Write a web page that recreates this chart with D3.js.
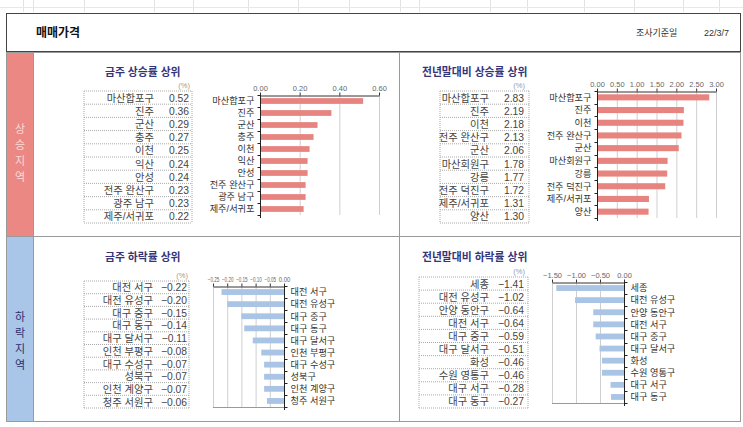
<!DOCTYPE html>
<html lang="ko">
<head>
<meta charset="utf-8">
<title>매매가격</title>
<script src="https://cdn.jsdelivr.net/npm/d3@7"></script>
<style>
  body { margin: 0; background: #fff; }
  svg { display: block; font-family: "Liberation Sans", "Noto Sans CJK KR", sans-serif; }
</style>
</head>
<body>
<script>
// ---- data ----
let weekUpNames = ["마산합포구", "진주", "군산", "충주", "이천", "익산", "안성", "전주 완산구", "광주 남구", "제주/서귀포"]
let weekUpVals = [0.52, 0.36, 0.29, 0.27, 0.25, 0.24, 0.24, 0.23, 0.23, 0.22]
let weekUpTicks = [0, 0.2, 0.4, 0.6]

let yearUpNames = ["마산합포구", "진주", "이천", "전주 완산구", "군산", "마산회원구", "강릉", "전주 덕진구", "제주/서귀포", "양산"]
let yearUpVals = [2.83, 2.19, 2.18, 2.13, 2.06, 1.78, 1.77, 1.72, 1.31, 1.30]
let yearUpTicks = [0, 0.5, 1, 1.5, 2, 2.5, 3]

let weekDownNames = ["대전 서구", "대전 유성구", "대구 중구", "대구 동구", "대구 달서구", "인천 부평구", "대구 수성구", "성북구", "인천 계양구", "청주 서원구"]
let weekDownVals = [-0.22, -0.20, -0.15, -0.14, -0.11, -0.08, -0.07, -0.07, -0.07, -0.06]
let weekDownTicks = [-0.25, -0.2, -0.15, -0.1, -0.05, 0]

let yearDownNames = ["세종", "대전 유성구", "안양 동안구", "대전 서구", "대구 중구", "대구 달서구", "화성", "수원 영통구", "대구 서구", "대구 동구"]
let yearDownVals = [-1.41, -1.02, -0.64, -0.64, -0.59, -0.51, -0.46, -0.46, -0.28, -0.27]
let yearDownTicks = [-1.5, -1, -0.5, 0]

let w = 743, h = 427
let red = "#e8847f", blue = "#a9c4e5", navy = "#35357a"
let fmt = d3.format(".2f")

let svg = d3.select("body").append("svg").attr("width", w).attr("height", h)

// faint spreadsheet grid at the very top
let gridX = [23, 33, 84, 154, 193, 248, 298, 349, 400, 419, 490, 527, 584, 634, 683, 719]
gridX.forEach(x => {
  svg.append("line").attr("x1", x + 0.5).attr("x2", x + 0.5).attr("y1", 0).attr("y2", 12)
    .attr("stroke", "#e3e3e3")
})
svg.append("line").attr("x1", 0).attr("x2", w).attr("y1", 7.5).attr("y2", 7.5).attr("stroke", "#e8e8e8")

// header box
svg.append("rect").attr("x", 6.5).attr("y", 13.5).attr("width", 734).attr("height", 38)
  .attr("fill", "#fff").attr("stroke", "#444")
svg.append("text").attr("x", 36).attr("y", 37).text("매매가격")
  .attr("font-size", 12).attr("font-weight", "bold").attr("fill", "#111")
svg.append("text").attr("x", 636).attr("y", 36).text("조사기준일")
  .attr("font-size", 9).attr("fill", "#333")
svg.append("text").attr("x", 704).attr("y", 36).text("22/3/7")
  .attr("font-size", 9).attr("fill", "#333")

// side bands
svg.append("rect").attr("x", 6).attr("y", 53).attr("width", 27).attr("height", 183).attr("fill", "#ec8883")
svg.append("rect").attr("x", 6).attr("y", 237).attr("width", 27).attr("height", 185).attr("fill", "#a9c6e9")
"상승지역".split("").forEach((c, i) => {
  svg.append("text").attr("x", 20).attr("y", 133 + i * 16).text(c)
    .attr("text-anchor", "middle").attr("font-size", 11).attr("fill", "#f8dcd8")
})
"하락지역".split("").forEach((c, i) => {
  svg.append("text").attr("x", 20).attr("y", 321 + i * 16).text(c)
    .attr("text-anchor", "middle").attr("font-size", 11).attr("fill", "#2e2e6e")
})

// panel frame
svg.append("rect").attr("x", 6.5).attr("y", 52.5).attr("width", 734).attr("height", 369)
  .attr("fill", "none").attr("stroke", "#9a9a9a")
svg.append("line").attr("x1", 33.5).attr("x2", 33.5).attr("y1", 53).attr("y2", 422).attr("stroke", "#9a9a9a")
svg.append("line").attr("x1", 399.5).attr("x2", 399.5).attr("y1", 53).attr("y2", 422).attr("stroke", "#9a9a9a")
svg.append("line").attr("x1", 6).attr("x2", 741).attr("y1", 236.5).attr("y2", 236.5).attr("stroke", "#9a9a9a")

function drawPanel(p) {
  let g = svg.append("g")

  // title
  g.append("text").attr("x", p.titleX).attr("y", p.titleY).text(p.title)
    .attr("font-size", 10.8).attr("font-weight", "bold").attr("fill", navy)

  // table
  let t = p.table
  let rowH = (t.bottom - t.top) / p.names.length
  g.append("text").attr("x", t.valX + 1).attr("y", t.top - 3).text("(%)")
    .attr("text-anchor", "end").attr("font-size", 7.5).attr("fill", "#999")
  for (let i = 0; i <= p.names.length; i++) {
    g.append("line").attr("x1", t.left).attr("x2", t.right)
      .attr("y1", t.top + i * rowH).attr("y2", t.top + i * rowH)
      .attr("stroke", "#aaa").attr("stroke-dasharray", "1,1")
  }
  ;[t.left, t.right].forEach(x => {
    g.append("line").attr("x1", x).attr("x2", x).attr("y1", t.top).attr("y2", t.bottom)
      .attr("stroke", "#aaa").attr("stroke-dasharray", "1,1")
  })
  p.names.forEach((n, i) => {
    let ty = t.top + i * rowH + rowH / 2 + 4
    g.append("text").attr("x", t.nameX).attr("y", ty).text(n)
      .attr("text-anchor", "end").attr("font-size", 10.3).attr("fill", "#444")
    g.append("text").attr("x", t.valX).attr("y", ty).text(fmt(p.values[i]))
      .attr("text-anchor", "end").attr("font-size", 10.3).attr("fill", "#444")
  })

  // bar chart
  let c = p.chart
  let ticks = p.ticks
  let x = d3.scaleLinear().domain(d3.extent(ticks)).range([c.x0, c.x1])
  let y = d3.scaleBand().domain(p.names).range([c.top, c.bottom])
    .paddingInner(0.52).paddingOuter(0.26)
  let step = y.step()

  // gridlines
  g.selectAll(".grid").data(ticks.filter(v => v !== 0)).enter()
    .append("line")
    .attr("x1", d => x(d) + 0.5).attr("x2", d => x(d) + 0.5)
    .attr("y1", c.top).attr("y2", c.bottom)
    .attr("stroke", "#cfcfcf")

  if (p.neg) {
    g.append("line").attr("x1", c.x0).attr("x2", c.x1)
      .attr("y1", c.bottom + 0.5).attr("y2", c.bottom + 0.5).attr("stroke", "#999")
  }

  // bars
  g.selectAll(".bar").data(p.values).enter()
    .append("rect")
    .attr("x", d => x(Math.min(0, d)))
    .attr("y", (d, i) => y(p.names[i]))
    .attr("width", d => Math.abs(x(d) - x(0)))
    .attr("height", y.bandwidth())
    .attr("fill", p.color)

  // value axis on top
  let xAxis = d3.axisTop(x).tickValues(ticks).tickFormat(fmt).tickSize(3).tickSizeOuter(0).tickPadding(2)
  let ax = g.append("g").attr("transform", "translate(0," + (c.top + 0.5) + ")").call(xAxis)
  ax.selectAll("text").attr("font-size", p.tickFont || 7.5).attr("fill", "#666")
  // squeeze crowded tick labels so they don't run into each other
  if (p.tickLen) {
    ax.selectAll("text").attr("textLength", p.tickLen).attr("lengthAdjust", "spacingAndGlyphs")
  }
  ax.selectAll("line").attr("stroke", "#333")
  ax.select(".domain").attr("stroke", "#333")

  // category axis at zero
  let zx = Math.round(x(0)) + 0.5
  g.append("line").attr("x1", zx).attr("x2", zx).attr("y1", c.top).attr("y2", c.bottom + 3)
    .attr("stroke", "#222")
  let dir = p.neg ? 1 : -1
  for (let i = 0; i <= p.names.length; i++) {
    let by = Math.round(c.top + i * step) + 0.5
    g.append("line").attr("x1", zx).attr("x2", zx + dir * 3).attr("y1", by).attr("y2", by)
      .attr("stroke", "#222")
  }
  p.names.forEach((n, i) => {
    g.append("text")
      .attr("x", zx + dir * 6)
      .attr("y", y(n) + y.bandwidth() / 2 + 3.3)
      .attr("text-anchor", p.neg ? "start" : "end")
      .attr("font-size", 9.2).attr("fill", "#333")
      .text(n)
  })
}

drawPanel({
  title: "금주 상승률 상위", titleX: 105, titleY: 76,
  names: weekUpNames, values: weekUpVals, ticks: weekUpTicks, color: red, neg: false,
  table: { left: 84, right: 192, top: 91, bottom: 223, nameX: 154, valX: 189 },
  chart: { x0: 260, x1: 379, top: 95, bottom: 215 }
})

drawPanel({
  title: "전년말대비 상승률 상위", titleX: 422, titleY: 76,
  names: yearUpNames, values: yearUpVals, ticks: yearUpTicks, color: red, neg: false,
  table: { left: 440, right: 529, top: 91, bottom: 223, nameX: 489, valX: 524 },
  chart: { x0: 597, x1: 716, top: 91, bottom: 218 }
})

drawPanel({
  title: "금주 하락률 상위", titleX: 105, titleY: 261,
  names: weekDownNames, values: weekDownVals, ticks: weekDownTicks, color: blue, neg: true,
  tickFont: 6.5, tickLen: 11.5,
  table: { left: 84, right: 189, top: 281, bottom: 408, nameX: 153, valX: 187 },
  chart: { x0: 213, x1: 284, top: 286, bottom: 407 }
})

drawPanel({
  title: "전년말대비 하락률 상위", titleX: 422, titleY: 261,
  names: yearDownNames, values: yearDownVals, ticks: yearDownTicks, color: blue, neg: true,
  table: { left: 419, right: 528, top: 277, bottom: 408, nameX: 489, valX: 524 },
  chart: { x0: 552, x1: 624, top: 282, bottom: 403 }
})
</script>
</body>
</html>
